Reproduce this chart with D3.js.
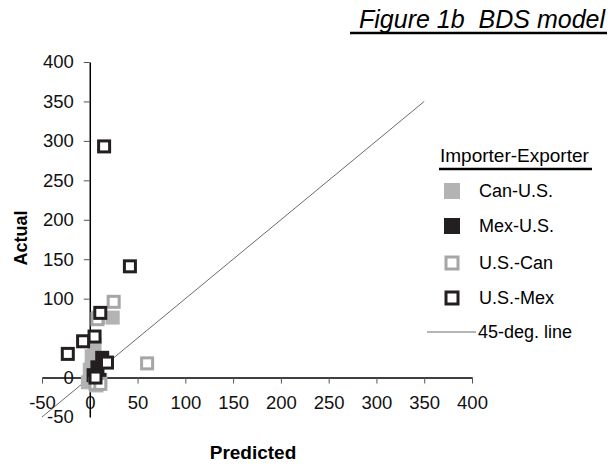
<!DOCTYPE html>
<html>
<head>
<meta charset="utf-8">
<script src="https://cdn.jsdelivr.net/npm/d3@7"></script>
<style>
    body { margin: 0; background: #fff; }
    svg { font-family: "Liberation Sans", Arial, sans-serif; }
</style>
</head>
<body>
<div id="chart"></div>
<script>
// Predicted vs actual, by importer-exporter pair
const seriesNames = ['Can-U.S.', 'Mex-U.S.', 'U.S.-Can', 'U.S.-Mex'];
const canUS = [[9, 76], [24, 76], [5, 42], [2, 27], [0, 10], [-2, -6], [7, -10], [11, -3]];
const mexUS = [[13, 25], [8, 13], [4, 3], [10, -3]];
const usCan = [[25, 96], [60, 18], [8, 74], [6, -8], [11, -8]];
const usMex = [[15, 293], [42, 141], [11, 82], [5, 52], [-7, 46], [-23, 30], [18, 19], [6, 0]];
const xTicks = [-50, 0, 50, 100, 150, 200, 250, 300, 350, 400];
const yTicks = [-50, 0, 50, 100, 150, 200, 250, 300, 350, 400];
const yHiddenLabels = [50];
const diagonal = [-50, 350];

const width = 611, height = 466;
const svg = d3.select('#chart').append('svg')
    .attr('width', width)
    .attr('height', height);

const x = d3.scaleLinear().domain([-50, 400]).range([42, 472]);
const y = d3.scaleLinear().domain([-50, 400]).range([417, 62]);

// Styles per series
const styles = [
    { fill: '#b3b3b3', stroke: 'none' },
    { fill: '#231f20', stroke: 'none' },
    { fill: '#fff', stroke: '#a6a6a6' },
    { fill: '#fff', stroke: '#231f20' }
];
const allSeries = [canUS, mexUS, usCan, usMex];

// Axes crossing at zero
const fmt = d => String(d);
const xAxis = svg.append('g')
    .attr('transform', `translate(0,${y(0)})`)
    .call(d3.axisBottom(x).tickValues(xTicks).tickFormat(fmt).tickSize(6).tickPadding(12).tickSizeOuter(0));
const yAxis = svg.append('g')
    .attr('transform', `translate(${x(0)},0)`)
    .call(d3.axisLeft(y).tickValues(yTicks).tickFormat(d => yHiddenLabels.includes(d) ? '' : fmt(d))
        .tickSize(6).tickPadding(10).tickSizeOuter(0));

[xAxis, yAxis].forEach(g => {
    g.select('.domain').attr('stroke', '#000').attr('stroke-width', 1.5);
    g.selectAll('.tick line').attr('stroke', '#555');
    g.selectAll('.tick text')
        .attr('font-size', '18.5px')
        .attr('fill', '#111')
        .attr('font-family', '"Liberation Sans", Arial, sans-serif');
});
yAxis.selectAll('.tick').filter(d => d === -50).select('line').remove();

// 45-degree line
svg.append('line')
    .attr('x1', x(diagonal[0])).attr('y1', y(diagonal[0]))
    .attr('x2', x(diagonal[1])).attr('y2', y(diagonal[1]))
    .attr('stroke', '#444')
    .attr('stroke-width', 0.8);

// Markers: drawn in series order so dark open squares sit on top
function marker(sel, st, filledSize, openSize) {
    const s = st.stroke === 'none' ? filledSize : openSize;
    sel.attr('width', s)
        .attr('height', s)
        .attr('fill', st.fill)
        .attr('stroke', st.stroke)
        .attr('stroke-width', st.stroke === 'none' ? 0 : 3);
    return s;
}
allSeries.forEach((pts, i) => {
    const st = styles[i];
    const s = st.stroke === 'none' ? 14 : 11;
    svg.append('g').selectAll('rect')
        .data(pts)
        .enter()
        .append('rect')
        .attr('x', d => x(d[0]) - s / 2)
        .attr('y', d => y(d[1]) - s / 2)
        .call(marker, st, 14, 11);
});

// Axis titles
svg.append('text')
    .attr('transform', 'translate(27,238) rotate(-90)')
    .attr('text-anchor', 'middle')
    .attr('font-size', '18px')
    .attr('font-weight', 'bold')
    .text('Actual');
svg.append('text')
    .attr('x', 253).attr('y', 459)
    .attr('text-anchor', 'middle')
    .attr('font-size', '19px')
    .attr('font-weight', 'bold')
    .text('Predicted');

// Title
svg.append('text')
    .attr('x', 605).attr('y', 28)
    .attr('text-anchor', 'end')
    .attr('font-size', '25px')
    .attr('font-style', 'italic')
    .attr('xml:space', 'preserve')
    .style('white-space', 'pre')
    .text('Figure 1b  BDS model');
svg.append('line')
    .attr('x1', 350).attr('x2', 607)
    .attr('y1', 33).attr('y2', 33)
    .attr('stroke', '#000').attr('stroke-width', 2.5);

// Legend
const legend = svg.append('g');
legend.append('text')
    .attr('x', 440).attr('y', 162)
    .attr('font-size', '19px')
    .text('Importer-Exporter');
legend.append('line')
    .attr('x1', 439).attr('x2', 592)
    .attr('y1', 169).attr('y2', 169)
    .attr('stroke', '#000').attr('stroke-width', 2.5);

const legendY = [191, 226, 263, 298];
seriesNames.forEach((name, i) => {
    const st = styles[i];
    const r = legend.append('rect');
    const s = marker(r, st, 16, 12);
    r.attr('x', 452 - s / 2).attr('y', legendY[i] - s / 2);
    legend.append('text')
        .attr('x', 479).attr('y', legendY[i])
        .attr('dy', '0.35em')
        .attr('font-size', '18px')
        .text(name);
});
legend.append('line')
    .attr('x1', 427).attr('x2', 476)
    .attr('y1', 332).attr('y2', 332)
    .attr('stroke', '#444').attr('stroke-width', 0.8);
legend.append('text')
    .attr('x', 478).attr('y', 332)
    .attr('dy', '0.35em')
    .attr('font-size', '18px')
    .text('45-deg. line');
</script>
</body>
</html>
